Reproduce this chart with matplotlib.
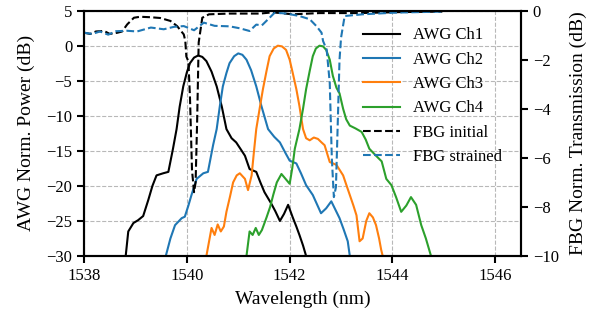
import matplotlib
matplotlib.use('Agg')
import matplotlib.pyplot as plt

# --- AWG channel spectra (left axis, dB) ---
ch1_wl = [1538.81, 1538.86, 1538.96, 1539.05, 1539.15, 1539.25, 1539.33, 1539.41, 1539.54, 1539.64,
          1539.73, 1539.80, 1539.86, 1539.93, 1540.00, 1540.06, 1540.14, 1540.22, 1540.30, 1540.38,
          1540.48, 1540.58, 1540.68, 1540.77, 1540.87, 1540.96, 1541.05, 1541.13, 1541.22, 1541.35,
          1541.43, 1541.51, 1541.64, 1541.72, 1541.81, 1541.89, 1541.97, 1542.06, 1542.13, 1542.19,
          1542.26, 1542.32]
ch1_db = [-30, -26.5, -25.3, -24.9, -24.3, -22, -20, -18.5, -18.2, -18,
          -14.7, -11.9, -8.7, -5.8, -3.8, -2.5, -1.7, -1.4, -1.6, -2.2,
          -3.7, -5.8, -8.7, -11.9, -13.2, -13.8, -14.8, -15.7, -17.6, -18,
          -19.5, -20.9, -22.5, -23.6, -25, -24, -22.7, -24.5, -25.8, -27,
          -28.5, -30]

ch2_wl = [1539.59, 1539.68, 1539.77, 1539.90, 1539.96, 1540.03, 1540.09, 1540.19, 1540.32, 1540.41,
          1540.51, 1540.58, 1540.64, 1540.70, 1540.77, 1540.83, 1540.92, 1541.00, 1541.08, 1541.16,
          1541.25, 1541.35, 1541.45, 1541.58, 1541.70, 1541.81, 1541.91, 1542.00, 1542.13, 1542.22,
          1542.32, 1542.45, 1542.53, 1542.61, 1542.71, 1542.81, 1542.89, 1542.97, 1543.05, 1543.13,
          1543.17]
ch2_db = [-30, -27.5, -25.6, -24.6, -24.4, -22.8, -21.3, -19, -18.2, -18,
          -14.2, -11.9, -8.7, -5.8, -3.9, -2.5, -1.5, -1.1, -1.3, -2,
          -3.5, -5.8, -8.6, -11.9, -13, -13.8, -15.2, -16.4, -16.8, -18.2,
          -19.9, -21.3, -22.6, -23.9, -23.2, -22.2, -23.4, -24.6, -26.2, -27.9,
          -30]

ch3_wl = [1540.38, 1540.48, 1540.54, 1540.60, 1540.66, 1540.72, 1540.77, 1540.84, 1540.90, 1540.97,
          1541.03, 1541.13, 1541.19, 1541.26, 1541.30, 1541.35, 1541.42, 1541.48, 1541.55, 1541.61,
          1541.69, 1541.77, 1541.85, 1541.93, 1542.00, 1542.06, 1542.13, 1542.19, 1542.26, 1542.32,
          1542.39, 1542.47, 1542.55, 1542.62, 1542.68, 1542.78, 1542.91, 1543.04, 1543.10, 1543.17,
          1543.24, 1543.30, 1543.36, 1543.42, 1543.49, 1543.55, 1543.62, 1543.68, 1543.74, 1543.78,
          1543.81]
ch3_db = [-30, -26, -27, -25.5, -26.5, -25.8, -23.7, -21.5, -19.5, -18.5,
          -18.2, -19, -20.6, -18.5, -15.5, -11.9, -8.8, -6.2, -3.6, -1.5,
          -0.4, 0, -0.1, -0.6, -2, -3.9, -6.2, -8.6, -11.9, -13.2,
          -13.5, -13.1, -13.3, -13.8, -14.2, -16.6, -17, -18.5, -19.8, -21.3,
          -22.8, -24.2, -27.9, -27.5, -25, -23.9, -24.5, -25.6, -27.5, -29.1,
          -30]

ch4_wl = [1541.16, 1541.22, 1541.28, 1541.34, 1541.40, 1541.46, 1541.55, 1541.62, 1541.68, 1541.75,
          1541.84, 1541.92, 1542.00, 1542.05, 1542.10, 1542.19, 1542.26, 1542.32, 1542.39, 1542.45,
          1542.51, 1542.58, 1542.65, 1542.71, 1542.78, 1542.84, 1542.91, 1542.97, 1543.04, 1543.10,
          1543.17, 1543.28, 1543.40, 1543.48, 1543.55, 1543.68, 1543.79, 1543.88, 1543.98, 1544.07,
          1544.17, 1544.27, 1544.36, 1544.46, 1544.56, 1544.65, 1544.75]
ch4_db = [-30, -26.5, -27, -26, -27, -26.3, -24.5, -23, -21.3, -19.5,
          -18.3, -19, -19.7, -17.5, -14.7, -11.9, -9, -6.2, -3.6, -1.5,
          -0.4, 0, -0.1, -0.6, -2, -4.3, -6, -6.8, -9, -10.5,
          -11.4, -11.8, -12.3, -13.4, -14.7, -15.7, -16.5, -19, -19.9, -21.6,
          -23.7, -22.8, -21.6, -22.7, -25.6, -27.5, -30]

# --- FBG transmission (right axis, dB) ---
fbg_init_wl = [1538.00, 1538.12, 1538.23, 1538.39, 1538.50, 1538.65, 1538.74, 1538.84, 1538.97,
               1539.09, 1539.30, 1539.48, 1539.68, 1539.81, 1539.94, 1539.97, 1539.99, 1540.03,
               1540.06, 1540.10, 1540.14, 1540.17, 1540.20, 1540.23, 1540.30, 1540.43, 1540.83,
               1541.42, 1541.67, 1542.06, 1542.58, 1543.36, 1544.14, 1544.97]
fbg_init_db = [-0.90, -0.95, -0.85, -0.83, -0.95, -0.90, -0.85, -0.56, -0.29,
               -0.25, -0.27, -0.30, -0.42, -0.63, -0.97, -1.24, -1.87, -2.07,
               -3.5, -6.5, -7.4, -7.0, -4.5, -1.3, -0.29, -0.15, -0.12,
               -0.12, -0.07, -0.15, -0.10, -0.10, -0.06, -0.04]

fbg_str_wl = [1538.00, 1538.16, 1538.31, 1538.47, 1538.62, 1538.83, 1539.03, 1539.30, 1539.55,
              1539.75, 1539.94, 1540.14, 1540.33, 1540.54, 1540.83, 1541.03, 1541.22, 1541.35,
              1541.46, 1541.61, 1541.71, 1541.94, 1542.19, 1542.39, 1542.52, 1542.62, 1542.65,
              1542.72, 1542.78, 1542.82, 1542.86, 1542.90, 1542.93, 1542.97, 1543.00, 1543.07,
              1543.42, 1544.07, 1544.97]
fbg_str_db = [-0.90, -0.95, -0.85, -0.98, -0.84, -0.82, -0.85, -0.69, -0.76,
              -0.66, -0.63, -0.80, -0.49, -0.62, -0.64, -0.72, -0.83, -0.57,
              -0.60, -0.29, -0.08, -0.12, -0.22, -0.35, -0.63, -0.90, -1.24,
              -1.59, -2.95, -6.0, -7.6, -7.2, -5.0, -2.0, -1.1, -0.22,
              -0.15, -0.08, -0.04]

plt.rcParams['font.family'] = ['Liberation Serif', 'DejaVu Serif']

fig = plt.figure(figsize=(5.92, 3.22), dpi=100)
ax = fig.add_axes([0.142, 0.205, 0.738, 0.762])
ax2 = ax.twinx()

blue, orange, green = '#1f77b4', '#ff7f0e', '#2ca02c'
lw = 1.5
h1, = ax.plot(ch1_wl, ch1_db, color='black', lw=lw, label='AWG Ch1')
h2, = ax.plot(ch2_wl, ch2_db, color=blue, lw=lw, label='AWG Ch2')
h3, = ax.plot(ch3_wl, ch3_db, color=orange, lw=lw, label='AWG Ch3')
h4, = ax.plot(ch4_wl, ch4_db, color=green, lw=lw, label='AWG Ch4')
h5, = ax2.plot(fbg_init_wl, fbg_init_db, color='black', ls='--', lw=lw, label='FBG initial')
h6, = ax2.plot(fbg_str_wl, fbg_str_db, color=blue, ls='--', lw=lw, label='FBG strained')

ax.set_xlim(1538, 1546.5)
ax.set_ylim(-30, 5)
ax2.set_ylim(-10, 0)
ax.set_xticks([1538, 1540, 1542, 1544, 1546])
ax.set_yticks([-30, -25, -20, -15, -10, -5, 0, 5])
ax2.set_yticks([-10, -8, -6, -4, -2, 0])

ax.grid(True, ls='--', color='#b8b8b8', lw=0.8)
ax.set_axisbelow(True)

ax.set_xlabel('Wavelength (nm)', fontsize=14, labelpad=5)
ax.set_ylabel('AWG Norm. Power (dB)', fontsize=14, labelpad=8)
ax2.set_ylabel('FBG Norm. Transmission (dB)', fontsize=14, labelpad=8)

for a in (ax, ax2):
    a.tick_params(direction='out', length=5, width=1.5, labelsize=12)
    for s in a.spines.values():
        s.set_linewidth(1.5)

handles = [h1, h2, h3, h4, h5, h6]
ax2.legend(handles, [h.get_label() for h in handles],
           loc='upper left', bbox_to_anchor=(0.613, 0.915), bbox_transform=fig.transFigure,
           frameon=False, fontsize=12, handlelength=2.2, handletextpad=0.8,
           labelspacing=0.5, borderpad=0, borderaxespad=0)

fig.savefig('out.png', dpi=100)
